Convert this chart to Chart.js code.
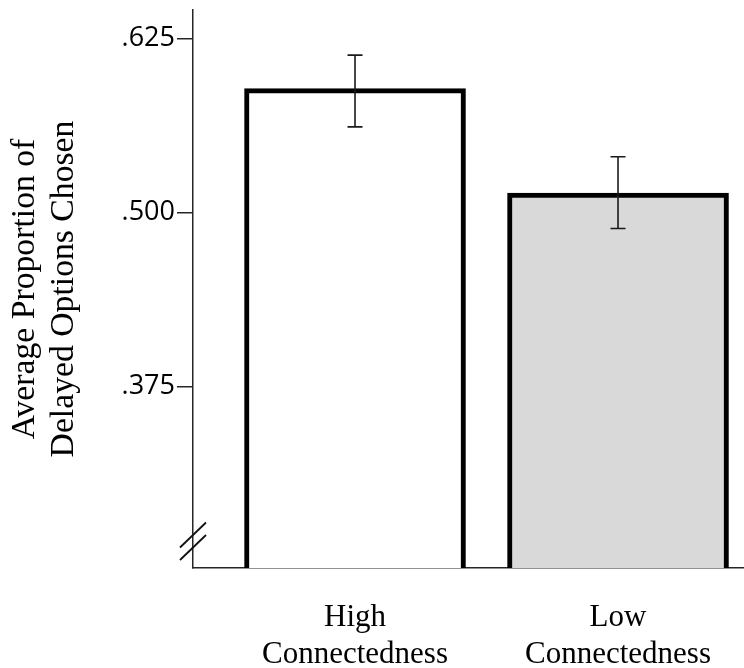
<!DOCTYPE html>
<html>
<head>
<meta charset="utf-8">
<script src="https://cdn.jsdelivr.net/npm/chart.js@4"></script>
<style>
  body { margin: 0; background: #fff; }
  canvas { display: block; }
</style>
</head>
<body>
<canvas id="chart" width="744" height="668"></canvas>
<script>
// categories and values
const categories = ['High Connectedness', 'Low Connectedness']
const means = [0.589, 0.514]
const errHigh = [0.613, 0.540]
const errLow = [0.5615, 0.4885]
const yTicks = [0.375, 0.500, 0.625]
const fills = ['#ffffff', '#d9d9d9']

const axisColor = '#262626'

// error bars drawn on top of the bars
const errorBars = {
    id: 'errorBars',
    afterDatasetsDraw(chart) {
        const ctx = chart.ctx
        const y = chart.scales.y
        const meta = chart.getDatasetMeta(0)
        ctx.save()
        ctx.strokeStyle = '#1a1a1a'
        ctx.lineWidth = 1.6
        meta.data.forEach(function(bar, i) {
            const top = y.getPixelForValue(errHigh[i])
            const bot = y.getPixelForValue(errLow[i])
            ctx.beginPath()
            ctx.moveTo(bar.x, top)
            ctx.lineTo(bar.x, bot)
            ctx.moveTo(bar.x - 7.5, top)
            ctx.lineTo(bar.x + 7.5, top)
            ctx.moveTo(bar.x - 7.5, bot)
            ctx.lineTo(bar.x + 7.5, bot)
            ctx.stroke()
        })
        ctx.restore()
    }
}

// the "//" axis break at the foot of the y axis
const axisBreak = {
    id: 'axisBreak',
    afterDraw(chart) {
        const ctx = chart.ctx
        const a = chart.chartArea
        ctx.save()
        ctx.strokeStyle = '#111'
        ctx.lineWidth = 1.8
        ;[-20.5, -8].forEach(function(dy) {
            ctx.beginPath()
            ctx.moveTo(a.left - 13, a.bottom + dy)
            ctx.lineTo(a.left + 13, a.bottom + dy - 25)
            ctx.stroke()
        })
        ctx.restore()
    }
}

new Chart(document.getElementById('chart'), {
    type: 'bar',
    data: {
        datasets: [{
            data: means.map(function(v, i) { return {x: i + 1, y: v} }),
            backgroundColor: fills,
            borderColor: '#000',
            borderWidth: 5,
            borderSkipped: false,
            barThickness: 221
        }]
    },
    options: {
        responsive: false,
        animation: false,
        layout: { padding: { top: 10, left: 0, right: 0, bottom: 0 } },
        plugins: {
            legend: { display: false },
            tooltip: { enabled: false }
        },
        scales: {
            x: {
                type: 'linear',
                offset: false,
                min: 0.384,
                max: 2.479,
                afterFit: function(s) {
                    s.height = 100
                    s.paddingLeft = 0
                    s.paddingRight = 0
                },
                afterBuildTicks: function(s) {
                    s.ticks = categories.map(function(c, i) { return {value: i + 1} })
                },
                ticks: {
                    color: '#000',
                    padding: 23,
                    font: { family: 'Liberation Serif', size: 31, lineHeight: 1.2 },
                    callback: function(v) { return categories[v - 1].split(' ') }
                },
                grid: { display: false },
                border: { display: true, color: axisColor, width: 1.5 }
            },
            y: {
                min: 0.2448,
                max: 0.6454,
                afterFit: function(s) {
                    s.width = 193
                    s.paddingTop = 0
                    s.paddingBottom = 0
                },
                afterBuildTicks: function(s) {
                    s.ticks = yTicks.map(function(v) { return {value: v} })
                },
                ticks: {
                    color: '#000',
                    padding: 2,
                    font: { family: 'Open Sans', size: 27 },
                    callback: function(v) { return v.toFixed(3).replace(/^0/, '') }
                },
                grid: {
                    drawOnChartArea: false,
                    drawTicks: true,
                    tickLength: 16,
                    color: axisColor,
                    lineWidth: 1.5
                },
                border: { display: true, color: axisColor, width: 1.5 },
                title: {
                    display: true,
                    text: ['Average Proportion of', 'Delayed Options Chosen'],
                    color: '#000',
                    font: { family: 'Liberation Serif', size: 33.7, lineHeight: 1.16 },
                    padding: { top: 6, bottom: 0 }
                }
            }
        }
    },
    plugins: [errorBars, axisBreak]
})
</script>
</body>
</html>
